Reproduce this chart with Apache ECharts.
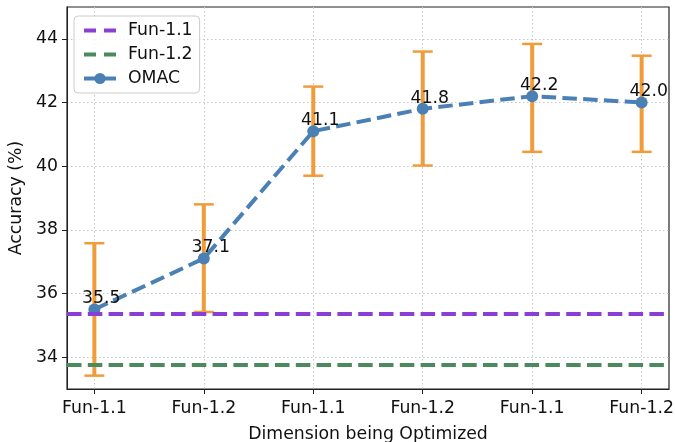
<!DOCTYPE html>
<html>
<head>
<meta charset="utf-8">
<script src="https://cdn.jsdelivr.net/npm/echarts@6/dist/echarts.min.js"></script>
<style>html,body{margin:0;padding:0;background:#fff}#c{width:675px;height:442px}</style>
</head>
<body>
<div id="c"></div>
<script>
const categories = ['Fun-1.1', 'Fun-1.2', 'Fun-1.1', 'Fun-1.2', 'Fun-1.1', 'Fun-1.2'];
const omac = [35.5, 37.1, 41.1, 41.8, 42.2, 42.0];
const errLow = [33.42, 35.42, 39.70, 40.02, 40.45, 40.45];
const errHigh = [37.58, 38.80, 42.50, 43.60, 43.84, 43.47];
const fun11 = 35.36;
const fun12 = 33.75;
const yTicks = [34, 36, 38, 40, 42, 44];

const FONT = 'DejaVu Sans';
const FS = 17.3;
const PURPLE = '#8a3fd4', GREEN = '#4b8a5c', BLUE = '#4a80b4', ORANGE = '#f19c3a';
const DASH = [14.5, 6.3];
const xIdx = categories.map((_, i) => i);
const chart = echarts.init(document.getElementById('c'), null, {renderer: 'canvas'});
chart.setOption({
  animation: false,
  backgroundColor: '#fff',
  textStyle: {fontFamily: FONT},
  grid: {left: 67, right: 6, top: 7, bottom: 53, show: true, borderColor: '#222', borderWidth: 1.2,
    containLabel: false, outerBoundsMode: 'none'},
  legend: {
    left: 74, top: 16, orient: 'vertical',
    itemWidth: 32, itemHeight: 14, itemGap: 7,
    padding: [6, 7, 6, 8],
    borderColor: '#cccccc', borderWidth: 1, borderRadius: 4,
    backgroundColor: 'rgba(255,255,255,0.8)',
    textStyle: {fontSize: FS, color: '#111', fontFamily: FONT, padding: [0, 0, 0, 7]},
    data: [
      {name: 'Fun-1.1', itemStyle: {opacity: 0}, lineStyle: {color: PURPLE, width: 4, type: [12, 8]}},
      {name: 'Fun-1.2', itemStyle: {opacity: 0}, lineStyle: {color: GREEN, width: 4, type: [12, 8]}},
      {name: 'OMAC', lineStyle: {color: BLUE, width: 4, type: 'solid'}}
    ]
  },
  xAxis: {
    type: 'value', min: -0.25, max: 5.25,
    name: 'Dimension being Optimized', nameLocation: 'middle', nameGap: 37,
    nameTextStyle: {fontSize: FS, color: '#111', fontFamily: FONT},
    axisLine: {show: true, onZero: false, lineStyle: {color: '#222'}},
    axisTick: {show: true, length: 5, customValues: xIdx, lineStyle: {color: '#222'}},
    axisLabel: {customValues: xIdx, fontSize: FS, color: '#111', margin: 11, fontFamily: FONT,
      formatter: v => categories[Math.round(v)] || ''},
    splitLine: {show: true, lineStyle: {color: '#c8c8c8', type: [1.5, 2.5], width: 1}}
  },
  yAxis: {
    type: 'value', min: 33, max: 45,
    name: 'Accuracy (%)', nameLocation: 'middle', nameGap: 40, nameRotate: 90,
    nameTextStyle: {fontSize: FS, color: '#111', fontFamily: FONT},
    axisLine: {show: true, onZero: false, lineStyle: {color: '#222'}},
    axisTick: {show: true, length: 5, customValues: yTicks, lineStyle: {color: '#222'}},
    axisLabel: {customValues: yTicks, fontSize: FS, color: '#111', margin: 9, fontFamily: FONT},
    splitLine: {show: true, lineStyle: {color: '#c8c8c8', type: [1.5, 2.5], width: 1}}
  },
  series: [
    {
      name: 'Fun-1.1', type: 'line', data: [], symbol: 'none',
      itemStyle: {color: PURPLE},
      lineStyle: {color: PURPLE, width: 4, type: DASH},
      markLine: {silent: true, symbol: 'none', label: {show: false},
        lineStyle: {color: PURPLE, width: 4, type: DASH},
        data: [{yAxis: fun11}]},
      z: 1
    },
    {
      name: 'Fun-1.2', type: 'line', data: [], symbol: 'none',
      itemStyle: {color: GREEN},
      lineStyle: {color: GREEN, width: 4, type: DASH},
      markLine: {silent: true, symbol: 'none', label: {show: false},
        lineStyle: {color: GREEN, width: 4, type: DASH},
        data: [{yAxis: fun12}]},
      z: 1
    },
    {
      name: 'errbars', type: 'custom', z: 2,
      data: xIdx.map(i => [i, errLow[i], errHigh[i]]),
      encode: {x: 0, y: [1, 2]},
      renderItem: function (params, api) {
        const lo = api.coord([api.value(0), api.value(1)]);
        const hi = api.coord([api.value(0), api.value(2)]);
        const hw = 10;
        return {type: 'group', children: [
          {type: 'line', shape: {x1: lo[0], y1: lo[1], x2: hi[0], y2: hi[1]}, style: {stroke: ORANGE, lineWidth: 4}},
          {type: 'line', shape: {x1: lo[0] - hw, y1: lo[1], x2: lo[0] + hw, y2: lo[1]}, style: {stroke: ORANGE, lineWidth: 2.5}},
          {type: 'line', shape: {x1: hi[0] - hw, y1: hi[1], x2: hi[0] + hw, y2: hi[1]}, style: {stroke: ORANGE, lineWidth: 2.5}}
        ]};
      }
    },
    {
      name: 'OMAC', type: 'line', z: 3,
      data: xIdx.map(i => [i, omac[i]]),
      symbol: 'circle', symbolSize: 12,
      itemStyle: {color: BLUE},
      lineStyle: {color: BLUE, width: 4, type: DASH},
      label: {show: true, position: 'top', distance: 0, offset: [7, 4], fontSize: FS, color: '#111', fontFamily: FONT,
        formatter: p => p.value[1].toFixed(1)}
    }
  ]
});
</script>
</body>
</html>
